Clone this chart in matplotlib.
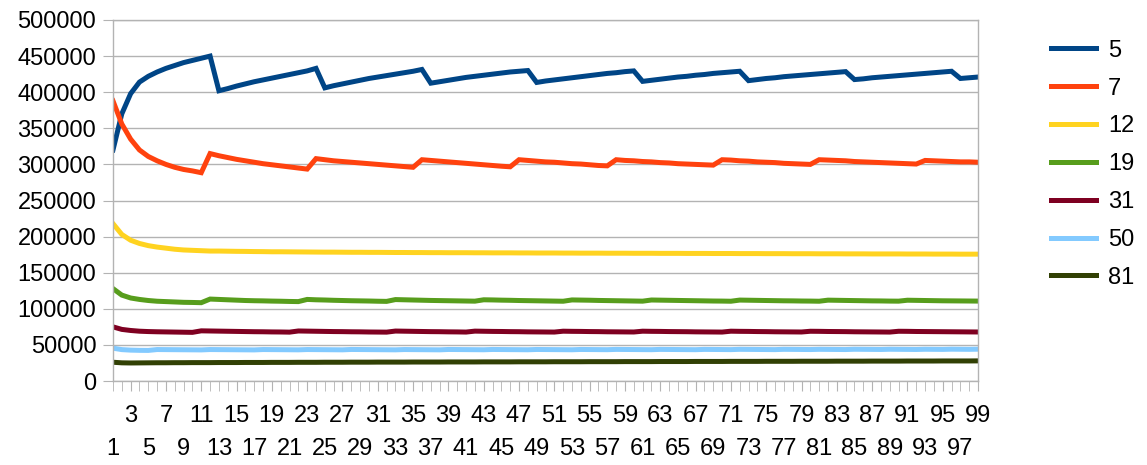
import matplotlib
matplotlib.use('Agg')
import matplotlib.pyplot as plt
from matplotlib.ticker import FixedLocator, FixedFormatter

plt.rcParams['font.family'] = ['Liberation Sans', 'DejaVu Sans']

# run number on the x axis (1..99)
runs = list(range(1, 100))

series_names = ['5', '7', '12', '19', '31', '50', '81']
colours = ['#004586', '#ff420e', '#ffd320', '#579d1c', '#7e0021', '#83caff', '#314004']

s5 = [320000, 370000, 398000, 414000, 422000, 428000, 433000, 437000, 441000, 444000, 447000, 450000,
      402000, 405000, 408500, 411500, 414500, 417000, 419500, 422000, 424500, 427000, 429500, 433000,
      406000, 409000, 411500, 414000, 416500, 419000, 421000, 423000, 425000, 427000, 429000, 431500,
      412500, 414500, 416500, 418500, 420500, 422000, 423500, 425000, 426500, 428000, 429000, 430000,
      413500, 415500, 417000, 418500, 420000, 421500, 423000, 424500, 426000, 427000, 428500, 429500,
      415000, 416500, 418000, 419500, 421000, 422000, 423500, 424500, 426000, 427000, 428000, 429000,
      416000, 417500, 419000, 420000, 421500, 422500, 423500, 424500, 425500, 426500, 427500, 428500,
      417500, 418500, 420000, 421000, 422000, 423000, 424000, 425000, 426000, 427000, 428000, 429000,
      419000, 420000, 421000]

s7 = [388000, 356000, 335000, 320000, 311000, 305000, 300000, 296000, 293000, 291000, 288500,
      315000, 312000, 309500, 307000, 305000, 303000, 301000, 299500, 298000, 296500, 295000, 293500,
      308000, 306500, 305000, 304000, 303000, 302000, 301000, 300000, 299000, 298000, 297000, 296000,
      306500, 305500, 304500, 303500, 302500, 301500, 300500, 299500, 298500, 297500, 296700,
      306500, 305500, 304500, 303500, 303000, 302000, 301000, 300500, 299500, 298500, 298000,
      306500, 305500, 305000, 304000, 303500, 302500, 302000, 301000, 300500, 300000, 299500, 299000,
      306500, 306000, 305000, 304500, 303500, 303000, 302500, 301500, 301000, 300500, 300000,
      306500, 306000, 305500, 305000, 304000, 303500, 303000, 302500, 302000, 301500, 301000, 300500,
      305500, 305000, 304500, 304000, 303500, 303500, 303000]

s12 = [218000, 203000, 195000, 190500, 187500, 185500, 184000, 182500, 181500, 181000,
       180500, 180000, 180000, 179800, 179600, 179500, 179300, 179200, 179000, 179000,
       178900, 178800, 178700, 178600, 178500, 178500, 178400, 178300, 178300, 178200,
       178200, 178100, 178000, 178000, 177900, 177900, 177800, 177800, 177700, 177700,
       177700, 177600, 177600, 177500, 177500, 177500, 177400, 177400, 177300, 177300,
       177300, 177200, 177200, 177100, 177100, 177100, 177000, 177000, 177000, 176900,
       176900, 176900, 176800, 176800, 176800, 176700, 176700, 176700, 176600, 176600,
       176600, 176500, 176500, 176500, 176400, 176400, 176400, 176300, 176300, 176300,
       176200, 176200, 176200, 176100, 176100, 176100, 176000, 176000, 176000, 176000,
       175900, 175900, 175900, 175800, 175800, 175800, 175700, 175700, 175700]

s19 = [128000, 119000, 115000, 113000, 111500, 110500, 110000, 109500, 109000, 108800, 108500,
       113500, 113000, 112500, 112000, 111500, 111200, 111000, 110700, 110500, 110200, 110000,
       113000, 112500, 112200, 111800, 111500, 111200, 111000, 110800, 110500, 110300,
       112800, 112500, 112200, 111900, 111600, 111400, 111200, 111000, 110800, 110600,
       112500, 112300, 112000, 111800, 111500, 111300, 111100, 110900, 110700, 110500,
       112300, 112100, 111900, 111600, 111400, 111200, 111000, 110800, 110600,
       112200, 112000, 111800, 111600, 111400, 111200, 111000, 110800, 110700, 110500,
       112100, 111900, 111700, 111500, 111300, 111100, 111000, 110800, 110700, 110500,
       112000, 111800, 111600, 111400, 111200, 111000, 110900, 110700, 110600,
       111900, 111700, 111500, 111300, 111100, 111000, 110900, 110800, 110700]

s31 = [75000, 71500, 70000, 69000, 68500, 68200, 68000, 67800, 67600, 67400,
       69500, 69300, 69100, 68900, 68700, 68500, 68300, 68200, 68000, 67900, 67700,
       69300, 69100, 68900, 68700, 68500, 68400, 68200, 68100, 67900, 67800, 67700,
       69200, 69000, 68800, 68600, 68400, 68300, 68100, 68000, 67800,
       69100, 68900, 68700, 68600, 68400, 68300, 68100, 68000, 67900, 67800,
       69000, 68800, 68700, 68500, 68400, 68200, 68100, 68000, 67900,
       69000, 68800, 68700, 68500, 68400, 68300, 68100, 68000, 67900, 67800,
       69000, 68800, 68700, 68500, 68400, 68200, 68100, 68000, 67900,
       68900, 68800, 68600, 68500, 68400, 68200, 68100, 68000, 67900, 67800,
       68900, 68800, 68600, 68500, 68400, 68300, 68200, 68100, 68000, 67900]

s50 = [45500, 43500, 42800, 42500, 42400, 43600, 43500, 43400, 43300, 43200,
       43100, 43600, 43500, 43400, 43300, 43200, 43100, 43600, 43500, 43400,
       43300, 43200, 43600, 43500, 43400, 43300, 43200, 43700, 43600, 43500,
       43400, 43300, 43200, 43600, 43500, 43400, 43300, 43200, 43700, 43600,
       43500, 43400, 43300, 43700, 43600, 43500, 43400, 43300, 43700, 43600,
       43500, 43400, 43300, 43700, 43600, 43500, 43400, 43800, 43700, 43600,
       43500, 43400, 43800, 43700, 43600, 43500, 43400, 43800, 43700, 43600,
       43500, 43900, 43800, 43700, 43600, 43500, 43900, 43800, 43700, 43600,
       43900, 43800, 43700, 43600, 44000, 43900, 43800, 43700, 44000, 43900,
       43800, 43700, 44000, 43900, 43800, 44100, 44000, 43900, 44100]

s81 = [26000, 25200, 25000, 25100, 25200, 25300, 25300, 25400, 25400, 25500,
       25500, 25500, 25600, 25600, 25600, 25700, 25700, 25700, 25800, 25800,
       25800, 25900, 25900, 25900, 26000, 26000, 26000, 26100, 26100, 26100,
       26200, 26200, 26200, 26200, 26300, 26300, 26300, 26300, 26400, 26400,
       26400, 26400, 26500, 26500, 26500, 26500, 26600, 26600, 26600, 26600,
       26700, 26700, 26700, 26700, 26800, 26800, 26800, 26800, 26900, 26900,
       26900, 26900, 27000, 27000, 27000, 27000, 27100, 27100, 27100, 27100,
       27200, 27200, 27200, 27200, 27300, 27300, 27300, 27300, 27400, 27400,
       27400, 27400, 27500, 27500, 27500, 27500, 27600, 27600, 27600, 27600,
       27700, 27700, 27700, 27700, 27800, 27800, 27800, 27800, 27900]

y_ticks = list(range(0, 500001, 50000))

grey = '#b3b3b3'

fig = plt.figure(figsize=(11.47, 4.65), dpi=100)
ax = fig.add_axes([0.0985, 0.1806, 0.7542, 0.7764])

all_series = [s5, s7, s12, s19, s31, s50, s81]
for name, vals, col in zip(series_names, all_series, colours):
    ax.plot(runs, vals, color=col, lw=3.6, label=name, solid_joinstyle='miter')

ax.set_xlim(1, 99)
ax.set_ylim(0, 500000)
ax.set_yticks(y_ticks)
ax.set_yticklabels([str(v) for v in y_ticks])

# odd runs get labels, staggered over two rows like the spreadsheet did:
# 3,7,11,.. on the upper row (major), 1,5,9,.. on the lower row (minor),
# even runs just get a tick mark
upper = [n for n in runs if n % 4 == 3]
lower = [n for n in runs if n % 4 != 3]
ax.xaxis.set_major_locator(FixedLocator(upper))
ax.xaxis.set_major_formatter(FixedFormatter([str(n) for n in upper]))
ax.xaxis.set_minor_locator(FixedLocator(lower))
ax.xaxis.set_minor_formatter(FixedFormatter([str(n) if n % 4 == 1 else '' for n in lower]))

ax.tick_params(axis='x', which='major', length=7, color=grey, labelsize=17, pad=10.5)
ax.tick_params(axis='x', which='minor', length=7, color=grey, labelsize=17, pad=34)
ax.tick_params(axis='y', length=7, color=grey, labelsize=17, pad=5)

ax.grid(axis='y', color=grey, lw=1)
ax.set_axisbelow(True)
for side in ['left', 'right', 'bottom', 'top']:
    ax.spines[side].set_color(grey)
    ax.spines[side].set_linewidth(1)

fig.legend(loc='center left', bbox_to_anchor=(0.898, 0.647), frameon=False,
           fontsize=17, handlelength=1.9, handletextpad=0.5, labelspacing=0.67)

fig.savefig('out.png', dpi=100)
